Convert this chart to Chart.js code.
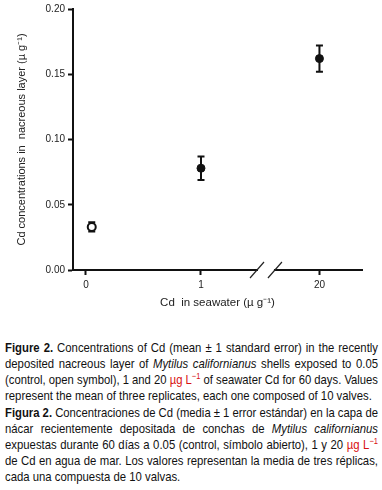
<!DOCTYPE html>
<html>
<head>
<meta charset="utf-8">
<script src="https://cdn.jsdelivr.net/npm/chart.js@4.4.1/dist/chart.umd.min.js"></script>
<style>
  html, body { margin: 0; padding: 0; background: #fff; }
  body { width: 382px; height: 490px; position: relative; overflow: hidden; }
  #wrap { position: absolute; left: 0; top: 0; width: 382px; height: 310px; }
  #cap {
    position: absolute; left: 5px; top: 340px; width: 373px;
    font-family: "Liberation Sans", Arial, sans-serif;
    font-size: 13.5px; line-height: 16px; color: #111;
  }
  #cap .l, #cap .e { white-space: nowrap; transform-origin: 0 0; height: 16px; }
  #cap .l { text-align: justify; text-align-last: justify; }
  #cap .e { text-align: left; text-align-last: left; }
  #cap .r { color: #d81010; }
  #cap sup { font-size: 9px; line-height: 0; }
  #cap .p2 { margin-top: 1px; }
</style>
</head>
<body>
<div id="wrap"><canvas id="c" width="382" height="310"></canvas></div>
<div id="cap">
  <div class="l"><b>Figure 2.</b> Concentrations of Cd (mean ± 1 standard error) in the recently</div>
  <div class="l">deposited nacreous layer of <i>Mytilus californianus</i> shells exposed to 0.05</div>
  <div class="l">(control, open symbol), 1 and 20 <span class="r">µg L<sup>−1</sup></span> of seawater Cd for 60 days. Values</div>
  <div class="e">represent the mean of three replicates, each one composed of 10 valves.</div>
  <div class="l p2"><b>Figura 2.</b> Concentraciones de Cd (media ± 1 error estándar) en la capa de</div>
  <div class="l">nácar recientemente depositada de conchas de <i>Mytilus californianus</i></div>
  <div class="l">expuestas durante 60 días a 0.05 (control, símbolo abierto), 1 y 20 <span class="r">µg L<sup>−1</sup></span></div>
  <div class="l">de Cd en agua de mar. Los valores representan la media de tres réplicas,</div>
  <div class="e">cada una compuesta de 10 valvas.</div>
</div>
<script>
// ---- data ----
const doses = [0.05, 1, 20];              // Cd in seawater
const means = [0.033, 0.078, 0.162];      // Cd in nacreous layer
const stdErr = [0.0035, 0.009, 0.010];
const xTickDoses = [0, 1, 20];
const xTickLabels = ['0', '1', '20'];
const xTickPositions = [0, 1, 2.03];      // broken axis positions of tick doses
const yTicks = [0, 0.05, 0.10, 0.15, 0.20];
const breakPositions = [1.487, 1.643];

// ---- condensed caption lines (no narrow font installed) ----
(function fitCaption() {
  const W = 373, K = 0.84;
  document.querySelectorAll('#cap .l, #cap .e').forEach(div => {
    div.style.display = 'inline-block';
    div.style.width = 'auto';
    const nat = div.getBoundingClientRect().width;
    div.style.display = 'block';
    let k = K;
    if (div.classList.contains('l')) {
      if (nat * K > W) k = W / nat;
      div.style.width = (W / k) + 'px';
    } else {
      if (nat * K > W) k = W / nat;
      div.style.width = (nat + 2) + 'px';
    }
    div.style.transform = 'scaleX(' + k + ')';
  });
})();

// piecewise mapping dose -> broken axis position
function axisPos(d) {
  for (let i = 0; i < xTickDoses.length - 1; i++) {
    const a = xTickDoses[i], b = xTickDoses[i + 1];
    if (d <= b) return xTickPositions[i] + (d - a) / (b - a) * (xTickPositions[i + 1] - xTickPositions[i]);
  }
  return xTickPositions[xTickPositions.length - 1];
}

const pts = doses.map((d, i) => ({ x: axisPos(d), y: means[i] }));
const FONT = '"Liberation Sans", Arial, sans-serif';
const INK = '#111';

const errorBars = {
  id: 'errorBars',
  beforeDatasetsDraw(chart) {
    const { ctx, scales: { x, y } } = chart;
    ctx.save();
    ctx.strokeStyle = INK;
    ctx.lineWidth = 2;
    pts.forEach((p, i) => {
      const px = x.getPixelForValue(p.x);
      const yt = y.getPixelForValue(p.y + stdErr[i]);
      const yb = y.getPixelForValue(p.y - stdErr[i]);
      ctx.beginPath();
      ctx.moveTo(px, yt); ctx.lineTo(px, yb);
      ctx.moveTo(px - 3.5, yt); ctx.lineTo(px + 3.5, yt);
      ctx.moveTo(px - 3.5, yb); ctx.lineTo(px + 3.5, yb);
      ctx.stroke();
    });
    ctx.restore();
  }
};

const axisBreak = {
  id: 'axisBreak',
  afterDraw(chart) {
    const { ctx, scales: { x, y } } = chart;
    const y0 = y.getPixelForValue(0);
    const x1 = x.getPixelForValue(breakPositions[0]);
    const x2 = x.getPixelForValue(breakPositions[1]);
    ctx.save();
    ctx.fillStyle = '#fff';
    ctx.fillRect(x1 + 1, y0 - 2, x2 - x1 - 2, 4);
    ctx.strokeStyle = '#222';
    ctx.lineWidth = 1.2;
    [x1, x2].forEach(cx => {
      ctx.beginPath();
      ctx.moveTo(cx - 7, y0 + 8);
      ctx.lineTo(cx + 7, y0 - 8);
      ctx.stroke();
    });
    ctx.restore();
  }
};

new Chart(document.getElementById('c'), {
  type: 'scatter',
  data: {
    datasets: [{
      data: pts,
      pointRadius: 4,
      pointBorderWidth: [2, 1, 1],
      pointBackgroundColor: ['#fff', INK, INK],
      pointBorderColor: INK,
      pointHoverRadius: 4
    }]
  },
  options: {
    responsive: false,
    animation: false,
    layout: { padding: { top: 4, right: 20, left: 0, bottom: 0 } },
    plugins: { legend: { display: false }, tooltip: { enabled: false } },
    scales: {
      x: {
        type: 'linear',
        min: -0.113,
        max: 2.4,
        afterBuildTicks: s => { s.ticks = xTickPositions.map(v => ({ value: v })); },
        afterFit: s => { s.height = 40; },
        ticks: {
          autoSkip: false,
          padding: 4,
          color: '#222',
          font: { family: FONT, size: 10 },
          callback: (v, i) => xTickLabels[i]
        },
        grid: { display: true, drawOnChartArea: false, drawTicks: true, tickLength: 5, tickWidth: 2, tickColor: INK },
        border: { display: true, width: 2, color: INK },
        title: {
          display: true,
          text: 'Cd  in seawater (µ g⁻¹)',
          color: '#222',
          font: { family: FONT, size: 11.5 },
          padding: { top: 4, bottom: 0 }
        }
      },
      y: {
        min: 0,
        max: 0.2,
        afterBuildTicks: s => { s.ticks = yTicks.map(v => ({ value: v })); },
        afterFit: s => { s.width = 73; },
        ticks: {
          padding: 3,
          color: '#222',
          font: { family: FONT, size: 10 },
          callback: v => v.toFixed(2)
        },
        grid: { display: true, drawOnChartArea: false, drawTicks: true, tickLength: 5, tickWidth: 2, tickColor: INK },
        border: { display: true, width: 2, color: INK },
        title: {
          display: true,
          text: 'Cd concentrations in  nacreous layer (µ g⁻¹)',
          color: '#222',
          font: { family: FONT, size: 11 },
          padding: { top: 15, bottom: 0 }
        }
      }
    }
  },
  plugins: [errorBars, axisBreak]
});
</script>
</body>
</html>
